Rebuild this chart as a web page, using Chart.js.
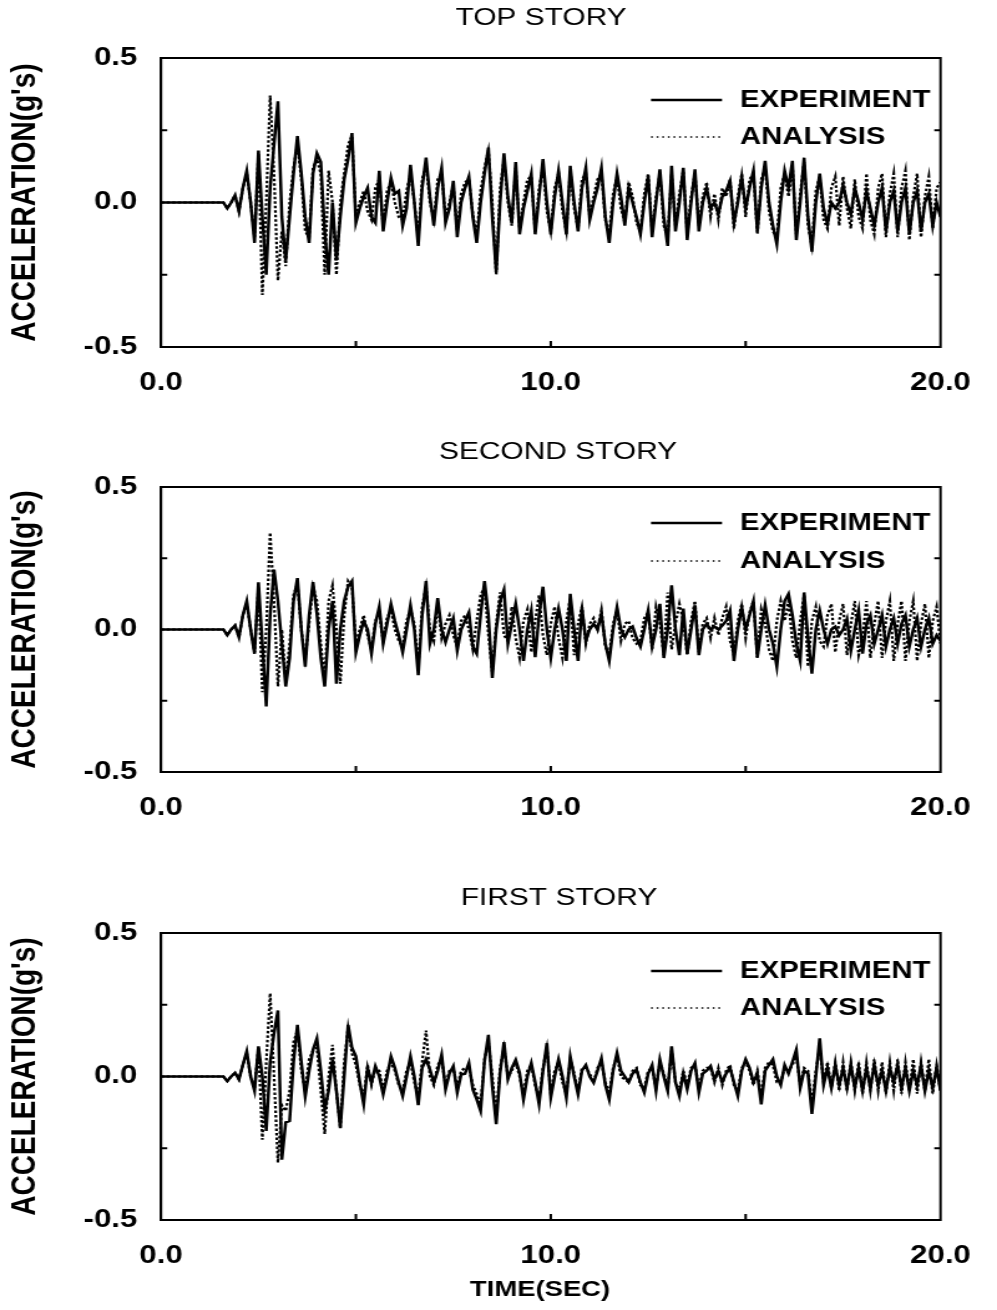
<!DOCTYPE html>
<html>
<head>
<meta charset="utf-8">
<script src="https://cdn.jsdelivr.net/npm/chart.js@4.4.0/dist/chart.umd.min.js"></script>
<style>
  html, body { margin: 0; padding: 0; background: #fff; }
  body { width: 997px; height: 1310px; position: relative; overflow: hidden; }
  canvas { position: absolute; left: 0; }
</style>
</head>
<body>
<canvas id="top-story" width="800" height="429" style="top:0px;width:997px;height:429px"></canvas>
<canvas id="second-story" width="800" height="446" style="top:429px;width:997px;height:446px"></canvas>
<canvas id="first-story" width="800" height="435" style="top:875px;width:997px;height:435px"></canvas>
<script>
const time = Array.from({ length: 201 }, (_, i) => +(i * 0.1).toFixed(1));

const topExperiment = [
  0, 0, 0, 0, 0, 0, 0, 0, 0, 0,
  0, 0, 0, 0, 0, 0, 0, -0.02, 0, 0.025,
  -0.03, 0.05, 0.11, 0, -0.14, 0.18, -0.05, -0.25, 0.05, 0.2,
  0.35, -0.05, -0.2, -0.05, 0.1, 0.23, 0.1, -0.05, -0.14, 0.1,
  0.17, 0.14, -0.1, -0.25, 0, -0.2, -0.05, 0.08, 0.15, 0.24,
  -0.07, -0.02, 0.02, 0.05, -0.05, -0.07, 0.11, -0.1, 0, 0.085,
  0.03, 0.04, -0.08, -0.02, 0.13, 0, -0.15, 0.05, 0.155, 0.02,
  -0.08, 0.05, 0.12, -0.07, -0.02, 0.075, -0.12, 0, 0.05, 0.09,
  -0.05, -0.14, 0, 0.1, 0.19, -0.05, -0.24, 0, 0.17, 0.02,
  -0.07, 0.14, -0.11, -0.02, 0.04, 0.1, -0.11, 0.02, 0.15, 0,
  -0.11, 0.02, 0.11, 0, -0.11, 0.127, 0, -0.1, 0.05, 0.12,
  -0.06, 0, 0.05, 0.12, -0.05, -0.14, 0, 0.1, 0.02, -0.08,
  0.05, 0, -0.05, -0.11, 0, 0.09, -0.12, 0, 0.115, -0.05,
  -0.15, 0.127, -0.1, 0, 0.12, -0.13, 0, 0.115, -0.1, 0,
  0.05, -0.02, 0, -0.04, 0.02, 0.04, 0.075, -0.07, 0, 0.09,
  -0.02, 0.05, 0.11, -0.1, 0.05, 0.144, 0, -0.08, -0.144, 0,
  0.11, 0.05, 0.144, -0.13, 0, 0.155, -0.05, -0.17, 0, 0.1,
  -0.02, -0.075, 0, -0.02, 0, 0.06, 0, -0.04, 0.05, 0,
  -0.06, 0.04, -0.02, -0.08, 0, 0.05, -0.1, 0, 0.04, -0.1,
  0, 0.05, -0.11, 0, 0.04, -0.1, 0, 0.03, -0.08, 0,
  -0.05
];
const topAnalysis = [
  0, 0, 0, 0, 0, 0, 0, 0, 0, 0,
  0, 0, 0, 0, 0, 0, 0, -0.02, 0, 0.025,
  -0.03, 0.05, 0.1, 0, -0.12, 0.17, -0.32, 0, 0.37, 0.1,
  -0.27, -0.1, -0.22, 0, 0.12, 0.2, 0.08, -0.1, -0.12, 0.12,
  0.15, 0.1, -0.25, 0.11, 0, -0.25, 0, 0.1, 0.2, 0.23,
  -0.05, 0, 0.04, -0.03, -0.06, 0.05, 0.08, -0.08, 0.04, 0.07,
  0, -0.05, -0.06, 0.04, 0.1, 0, -0.12, 0.08, 0.13, 0,
  -0.06, 0.08, 0.1, -0.05, 0, 0.06, -0.1, 0.03, 0.07, 0.08,
  -0.04, -0.12, 0.04, 0.12, 0.18, 0, -0.25, 0.05, 0.15, 0,
  -0.08, 0.12, -0.09, 0, 0.08, 0.09, -0.1, 0.05, 0.12, -0.03,
  -0.1, 0.05, 0.1, -0.03, -0.1, 0.11, -0.02, -0.09, 0.08, 0.1,
  -0.05, 0.02, 0.08, 0.1, -0.06, -0.11, 0.03, 0.09, -0.02, -0.07,
  0.07, 0.02, -0.07, -0.1, 0.03, 0.1, -0.1, 0.02, 0.1, -0.08,
  -0.12, 0.1, -0.08, 0.03, 0.11, -0.11, 0.02, 0.1, -0.08, 0.02,
  0.07, -0.05, 0.03, -0.06, 0.05, 0.02, 0.08, -0.09, 0.02, 0.1,
  -0.05, 0.08, 0.1, -0.11, 0.08, 0.12, -0.03, -0.1, -0.12, 0.05,
  0.1, 0.02, 0.13, -0.11, 0.03, 0.14, -0.08, -0.15, 0.04, 0.09,
  -0.06, -0.09, 0.05, 0.09, -0.08, 0.09, -0.02, -0.09, 0.08, -0.05,
  -0.09, 0.1, -0.06, -0.11, 0.05, 0.1, -0.12, 0.03, 0.1, -0.12,
  0.05, 0.11, -0.13, 0.02, 0.1, -0.12, 0.02, 0.09, -0.09, 0.05,
  0.07
];

const secondExperiment = [
  0, 0, 0, 0, 0, 0, 0, 0, 0, 0,
  0, 0, 0, 0, 0, 0, 0, -0.02, 0, 0.014,
  -0.027, 0.05, 0.1, 0, -0.085, 0.166, -0.05, -0.27, 0.05, 0.21,
  0.1, -0.05, -0.2, -0.1, 0.1, 0.18, 0, -0.13, 0.05, 0.166,
  0.055, -0.1, -0.2, 0, 0.1, -0.19, 0, 0.1, 0.15, 0.17,
  -0.08, -0.02, 0.03, 0, -0.085, 0.02, 0.08, -0.05, 0.02, 0.09,
  0.03, -0.02, -0.08, 0, 0.085, 0, -0.16, 0.05, 0.17, -0.05,
  0, 0.11, 0, -0.045, 0, 0.04, -0.074, 0, 0.03, 0.06,
  -0.06, -0.085, 0.05, 0.17, 0.05, -0.17, 0, 0.1, 0.14, -0.05,
  0.02, 0.09, 0, -0.11, 0, 0.067, -0.097, 0.05, 0.15, 0,
  -0.1, 0, 0.073, 0, -0.11, 0.125, 0, -0.11, 0.078, -0.04,
  0, 0.02, 0, 0.055, -0.05, -0.11, 0, 0.078, 0, -0.027,
  0, 0.01, -0.03, -0.06, 0, 0.067, -0.06, 0, 0.09, -0.1,
  0, 0.155, 0, -0.09, 0.073, -0.085, 0, 0.085, -0.09, 0,
  0.02, 0, 0.01, 0, 0.014, 0.03, 0.067, -0.11, 0, 0.078,
  0, 0.05, 0.1, -0.097, 0, 0.085, 0, -0.05, -0.13, 0,
  0.1, 0.125, 0.05, -0.05, -0.11, 0.13, -0.03, -0.155, 0, 0.067,
  0, -0.05, 0, 0.01, -0.02, 0, 0.037, -0.074, 0, 0.067,
  -0.085, 0.02, 0.05, -0.05, 0, 0.05, -0.06, 0, 0.04, -0.05,
  0.02, 0.05, -0.06, 0, 0.04, -0.06, 0, 0.04, -0.05, -0.02,
  -0.04
];
const secondAnalysis = [
  0, 0, 0, 0, 0, 0, 0, 0, 0, 0,
  0, 0, 0, 0, 0, 0, 0, -0.02, 0, 0.014,
  -0.027, 0.05, 0.09, 0, -0.08, 0.15, -0.22, 0, 0.34, 0.1,
  -0.2, 0, -0.18, -0.05, 0.12, 0.16, 0, -0.1, 0.02, 0.15,
  0.1, -0.05, -0.18, 0.1, 0.155, 0, -0.19, 0.05, 0.17, 0.15,
  -0.05, 0, 0.05, -0.02, -0.07, 0.03, 0.06, -0.04, 0.04, 0.07,
  0, -0.04, -0.06, 0.03, 0.07, 0.02, -0.13, 0.08, 0.15, 0,
  -0.04, 0.09, -0.03, 0.02, 0.05, -0.02, -0.06, 0.03, 0.05, 0,
  -0.07, 0.03, 0.12, 0.15, -0.02, -0.15, 0.02, 0.13, -0.02, -0.04,
  0.08, -0.03, -0.1, 0.03, 0.07, -0.08, 0.03, 0.12, -0.02, -0.09,
  0.02, 0.08, -0.03, -0.1, 0.03, 0.11, -0.09, 0.02, 0.08, -0.05,
  0.02, 0.04, 0, 0.07, -0.06, -0.09, 0.02, 0.07, -0.04, 0.02,
  0.03, -0.03, -0.05, -0.04, 0.04, 0.06, -0.07, 0.08, 0.02, -0.09,
  0.13, -0.07, 0.02, 0.09, 0.03, -0.09, 0.03, 0.1, -0.08, 0.02,
  0.04, -0.03, 0.04, -0.02, 0.04, 0.08, -0.04, -0.09, 0.03, 0.09,
  -0.03, 0.06, 0.1, -0.1, 0.07, 0.02, -0.07, -0.11, 0.03, 0.1,
  0.03, 0.1, -0.04, -0.1, 0.03, 0.12, -0.13, 0.03, 0.08, -0.04,
  -0.06, 0.05, 0.09, -0.08, 0.03, 0.09, -0.09, 0.02, 0.1, -0.09,
  -0.03, 0.1, -0.1, 0.02, 0.1, -0.1, 0.03, 0.1, -0.11, 0.02,
  0.1, -0.11, 0.03, 0.1, -0.11, 0.02, 0.09, -0.1, 0.03, 0.08,
  -0.05
];

const firstExperiment = [
  0, 0, 0, 0, 0, 0, 0, 0, 0, 0,
  0, 0, 0, 0, 0, 0, 0, -0.016, 0, 0.013,
  -0.01, 0.04, 0.088, 0, -0.05, 0.105, 0, -0.19, 0.05, 0.15,
  0.23, -0.29, -0.16, -0.155, 0.05, 0.18, 0.05, -0.07, 0.02, 0.093,
  0.133, 0.02, -0.115, -0.05, 0.06, -0.05, -0.18, 0, 0.18, 0.1,
  0.07, -0.02, -0.097, 0.03, -0.022, 0.036, 0, -0.062, 0, 0.07,
  0.03, -0.022, -0.068, 0, 0.07, 0, -0.1, 0.03, 0.06, 0.024,
  -0.022, 0.02, 0.076, -0.045, 0.01, 0.036, -0.056, 0.007, 0.01, 0.047,
  -0.045, -0.08, -0.12, 0.053, 0.145, -0.033, -0.166, 0.013, 0.12, -0.01,
  0.03, 0.058, 0.013, -0.08, 0, 0.047, -0.02, -0.097, 0.02, 0.116,
  -0.074, 0, 0.06, 0, -0.074, 0.07, 0, -0.062, 0.02, 0.04,
  0, -0.022, 0.02, 0.064, -0.03, -0.08, 0.02, 0.082, 0.02, 0,
  -0.02, 0.01, 0.024, -0.02, -0.056, 0.01, 0.04, -0.05, 0.059, 0,
  -0.05, 0.105, -0.02, -0.068, 0.01, -0.045, 0.02, 0.047, -0.056, 0.01,
  0.02, 0.036, -0.01, 0.02, -0.02, 0.01, 0.03, -0.02, -0.068, 0.02,
  0.06, 0.03, -0.02, 0.01, -0.097, 0.02, 0.04, 0.06, 0, -0.03,
  0.04, 0.01, 0.05, 0.093, -0.04, 0.02, 0.01, -0.13, 0, 0.133,
  -0.03, 0.03, -0.04, 0.04, -0.03, 0.03, -0.04, 0.04, -0.04, 0.03,
  -0.05, 0.03, -0.04, 0.04, -0.03, 0.02, -0.05, 0.03, -0.02, 0.04,
  -0.04, 0.03, -0.05, 0.02, -0.03, 0.04, -0.05, 0.02, -0.04, 0.03,
  -0.05
];
const firstAnalysis = [
  0, 0, 0, 0, 0, 0, 0, 0, 0, 0,
  0, 0, 0, 0, 0, 0, 0, -0.016, 0, 0.013,
  -0.01, 0.04, 0.08, 0, -0.04, 0.1, -0.22, 0.05, 0.29, 0,
  -0.3, -0.1, -0.12, -0.05, 0.12, 0.16, 0.02, -0.05, 0.06, 0.09,
  0.1, -0.05, -0.2, 0, 0.11, -0.05, -0.18, 0.05, 0.17, 0.08,
  0.04, -0.03, -0.07, 0.04, -0.03, 0.03, 0.02, -0.05, 0.02, 0.05,
  0.02, -0.03, -0.05, 0.02, 0.05, -0.02, -0.07, 0.05, 0.16, 0,
  -0.03, 0.04, 0.06, -0.03, 0.02, 0.03, -0.04, 0.02, 0.03, 0.03,
  -0.03, -0.06, -0.1, 0.06, 0.12, 0, -0.14, 0.03, 0.1, 0,
  0.02, 0.05, 0, -0.06, 0.02, 0.04, -0.03, -0.08, 0.03, 0.1,
  -0.06, 0.02, 0.05, -0.02, -0.06, 0.06, 0.01, -0.05, 0.03, 0.03,
  0.01, -0.02, 0.03, 0.05, -0.02, -0.06, 0.03, 0.07, 0, -0.01,
  -0.02, 0.02, 0.03, -0.03, -0.04, 0.02, 0.03, -0.04, 0.05, 0.01,
  -0.04, 0.09, -0.02, -0.05, 0.02, -0.03, 0.03, 0.04, -0.04, 0.02,
  0.03, 0.03, -0.02, 0.03, -0.03, 0.02, 0.04, -0.03, -0.05, 0.03,
  0.05, 0.02, -0.03, 0.02, -0.07, 0.03, 0.05, 0.04, -0.02, -0.02,
  0.03, 0.02, 0.04, 0.07, -0.03, 0.03, 0.02, -0.1, 0.02, 0.1,
  -0.02, 0.05, -0.04, 0.05, -0.05, 0.05, -0.05, 0.05, -0.05, 0.05,
  -0.06, 0.05, -0.05, 0.06, -0.05, 0.05, -0.06, 0.05, -0.05, 0.06,
  -0.06, 0.05, -0.05, 0.06, -0.06, 0.05, -0.05, 0.06, -0.06, 0.04,
  -0.05
];

const xTicks = [0, 10, 20];
const yTicks = [-0.5, 0, 0.5];
const xMinorTicks = [5, 10, 15];
const yMinorTicks = [-0.25, 0.25];

// the scan is stretched sideways: draw 800 wide, show 997 wide
const SX = 997 / 800;
const px = x => x / SX;
const FONT = '"Liberation Sans", Arial, Helvetica, sans-serif';

Chart.defaults.font.family = FONT;
Chart.defaults.color = "#000";

const panels = [
  { id: "top-story", title: "TOP STORY", exp: topExperiment, ana: topAnalysis,
    titleX: 541, titleY: 18, plotBottom: 347, legendRows: [42, 79], timeTitle: null },
  { id: "second-story", title: "SECOND STORY", exp: secondExperiment, ana: secondAnalysis,
    titleX: 558, titleY: 23, plotBottom: 343, legendRows: [36, 74], timeTitle: null },
  { id: "first-story", title: "FIRST STORY", exp: firstExperiment, ana: firstAnalysis,
    titleX: 559, titleY: 23, plotBottom: 345, legendRows: [38, 75], timeTitle: "TIME(SEC)" },
];

const frame = {
  id: "frame",
  afterDatasetsDraw(chart, args, opts) {
    const { ctx, chartArea: a, scales: { x, y } } = chart;
    ctx.save();
    ctx.strokeStyle = "#000";
    ctx.lineWidth = 2;
    ctx.strokeRect(a.left, a.top, a.right - a.left, a.bottom - a.top);
    ctx.beginPath();
    xMinorTicks.forEach(v => {
      const xp = x.getPixelForValue(v);
      ctx.moveTo(xp, a.bottom);
      ctx.lineTo(xp, a.bottom - 6);
    });
    yMinorTicks.forEach(v => {
      const yp = y.getPixelForValue(v);
      ctx.moveTo(a.left, yp);
      ctx.lineTo(a.left + 5, yp);
      ctx.moveTo(a.right, yp);
      ctx.lineTo(a.right - 5, yp);
    });
    ctx.stroke();

    // legend, drawn like the original: line sample then label
    const items = chart.data.datasets;
    opts.rows.forEach((dy, i) => {
      const ds = items[i];
      const yy = a.top + dy;
      ctx.beginPath();
      ctx.lineWidth = i === 0 ? 2.5 : 1.5;
      ctx.setLineDash(i === 0 ? [] : [1.5, 3]);
      ctx.moveTo(px(651), yy);
      ctx.lineTo(px(722), yy);
      ctx.stroke();
      ctx.setLineDash([]);
      ctx.fillStyle = "#000";
      ctx.font = "bold 23.5px " + FONT;
      ctx.textBaseline = "middle";
      ctx.textAlign = "left";
      ctx.fillText(ds.label, px(740), yy + 1);
    });

    // panel title above the frame, axis title under the last panel
    ctx.textAlign = "center";
    ctx.textBaseline = "middle";
    ctx.font = "24px " + FONT;
    ctx.fillText(opts.title, px(opts.titleX), opts.titleY);
    if (opts.timeTitle) {
      ctx.font = "bold 22px " + FONT;
      ctx.fillText(opts.timeTitle, px(540), chart.height - 20);
    }
    ctx.restore();
  },
};

panels.forEach(p => {
  new Chart(document.getElementById(p.id), {
    type: "line",
    data: {
      labels: time,
      datasets: [
        {
          label: "EXPERIMENT",
          data: p.exp,
          borderColor: "#000",
          borderWidth: 2.5,
          pointRadius: 0,
          tension: 0,
        },
        {
          label: "ANALYSIS",
          data: p.ana,
          borderColor: "#000",
          borderWidth: 2.2,
          borderDash: [2.5, 2],
          pointRadius: 0,
          tension: 0,
        },
      ],
    },
    options: {
      responsive: false,
      animation: false,
      devicePixelRatio: 1,
      layout: { padding: { left: 0, right: 800 - px(958), top: 58, bottom: 0 } },
      plugins: {
        legend: { display: false },
        tooltip: { enabled: false },
        title: { display: false },
        frame: { rows: p.legendRows, title: p.title, titleX: p.titleX, titleY: p.titleY, timeTitle: p.timeTitle },
      },
      scales: {
        x: {
          type: "linear",
          min: 0,
          max: 20,
          afterBuildTicks: s => { s.ticks = xTicks.map(v => ({ value: v })); },
          ticks: {
            padding: 21,
            maxRotation: 0,
            autoSkip: false,
            font: { size: 25, weight: "bold" },
            callback: v => v.toFixed(1),
          },
          grid: { display: false, drawTicks: false },
          border: { display: true, color: "#000", width: 2 },
          afterFit: s => { s.height = s.chart.height - p.plotBottom; },
        },
        y: {
          type: "linear",
          min: -0.5,
          max: 0.5,
          afterBuildTicks: s => { s.ticks = yTicks.map(v => ({ value: v })); },
          ticks: {
            padding: 19,
            font: { size: 25, weight: "bold" },
            callback: v => v.toFixed(1),
          },
          grid: { display: false, drawTicks: false },
          border: { display: true, color: "#000", width: 2 },
          title: {
            display: true,
            text: "ACCELERATION(g's)",
            font: { size: 28, weight: "bold" },
            padding: { top: 3, bottom: 0 },
          },
          afterFit: s => { s.width = px(161); },
        },
      },
    },
    plugins: [frame],
  });
});
</script>
</body>
</html>
